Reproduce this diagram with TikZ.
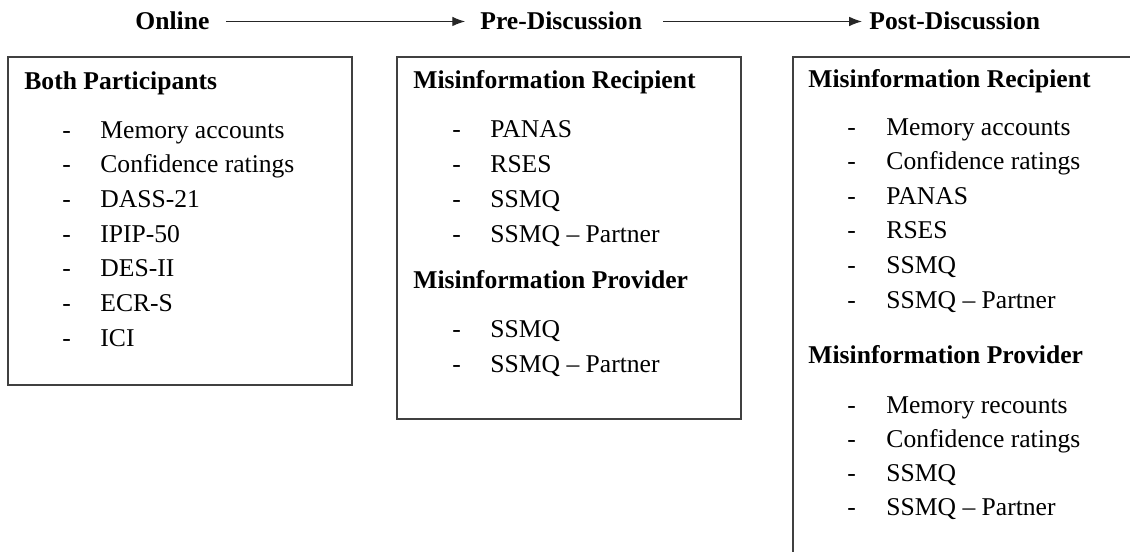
\documentclass[tikz,border=0pt]{standalone}
\usepackage{fontspec}
\setmainfont{Liberation Serif}
\usetikzlibrary{arrows.meta,positioning}

\tikzset{
  stage/.style={font=\fontsize{12}{14}\selectfont\bfseries, anchor=base west, inner sep=0pt, text height=8pt, text depth=0pt},
  head/.style={font=\fontsize{12}{14}\selectfont\bfseries, anchor=base west, inner sep=0pt},
  item/.style={font=\fontsize{12}{14}\selectfont, anchor=base west, inner sep=0pt},
  panel/.style={draw=black!75, line width=0.75pt},
  flow/.style={-{Latex[length=6pt,width=4.5pt]}, draw=black!85, line width=0.5pt}
}

\begin{document}
\begin{tikzpicture}[x=0.469pt, y=-0.469pt]
  \useasboundingbox (0,0) rectangle (1130,551);
  \clip (0,0) rectangle (1130,551);

  % stages
  \node[stage] (online) at (135,30) {Online};
  \node[stage] (pre) at (480,30) {Pre-Discussion};
  \node[stage] (post) at (869,30) {Post-Discussion};
  \draw[flow, shorten <=7.5pt, shorten >=7pt] (online) -- (pre);
  \draw[flow, shorten <=9.8pt, shorten >=3.3pt] (pre) -- (post);

  % boxes
  \draw[panel] (8,57) rectangle (352,385);
  \draw[panel] (397,57) rectangle (741,419);
  \draw[panel] (793,57) rectangle (1150,570);

  % online
  \node[head] (on-head) at (24,89) {Both Participants};
  \foreach \txt [count=\i from 0] in {Memory accounts, Confidence ratings, DASS-21, IPIP-50, DES-II, ECR-S, ICI}{
    \node[item] (on-d\i) at (62,138+34.7*\i) {-};
    \node[item] (on-\i) at (100,138+34.7*\i) {\txt};
  }

  % pre-discussion
  \node[head] (pre-rec) at (413,88) {Misinformation Recipient};
  \foreach \txt [count=\i from 0] in {PANAS, RSES, SSMQ, SSMQ -- Partner}{
    \node[item] (pr-d\i) at (452,137+35*\i) {-};
    \node[item] (pr-\i) at (490,137+35*\i) {\txt};
  }
  \node[head] (pre-prov) at (413,288) {Misinformation Provider};
  \foreach \txt [count=\i from 0] in {SSMQ, SSMQ -- Partner}{
    \node[item] (pp-d\i) at (452,337+35*\i) {-};
    \node[item] (pp-\i) at (490,337+35*\i) {\txt};
  }

  % post-discussion
  \node[head] (post-rec) at (808,87) {Misinformation Recipient};
  \foreach \txt [count=\i from 0] in {Memory accounts, Confidence ratings, PANAS, RSES, SSMQ, SSMQ -- Partner}{
    \node[item] (qr-d\i) at (847,135+34.6*\i) {-};
    \node[item] (qr-\i) at (886,135+34.6*\i) {\txt};
  }
  \node[head] (post-prov) at (808,363) {Misinformation Provider};
  \foreach \txt [count=\i from 0] in {Memory recounts, Confidence ratings, SSMQ, SSMQ -- Partner}{
    \node[item] (qp-d\i) at (847,413+34*\i) {-};
    \node[item] (qp-\i) at (886,413+34*\i) {\txt};
  }
\end{tikzpicture}
\end{document}
